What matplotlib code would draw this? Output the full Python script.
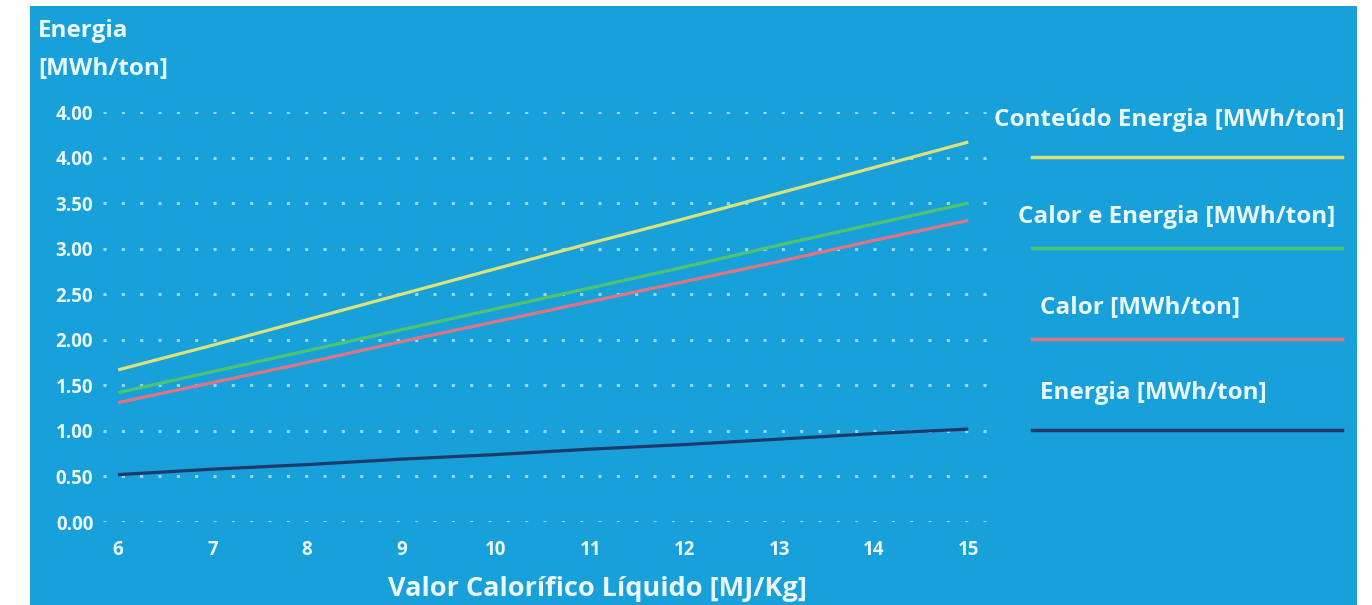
import matplotlib.pyplot as plt
from matplotlib.patches import Rectangle
from matplotlib.lines import Line2D

# valor calorífico líquido [MJ/Kg]
vcl = [6, 7, 8, 9, 10, 11, 12, 13, 14, 15]

conteudo = [1.67, 1.94, 2.22, 2.50, 2.78, 3.06, 3.33, 3.61, 3.89, 4.17]
calor_energia = [1.42, 1.65, 1.88, 2.11, 2.34, 2.57, 2.80, 3.04, 3.27, 3.50]
calor = [1.31, 1.53, 1.75, 1.98, 2.20, 2.42, 2.64, 2.86, 3.09, 3.31]
energia = [0.52, 0.58, 0.63, 0.69, 0.74, 0.80, 0.85, 0.91, 0.97, 1.02]

series_names = ["Conteúdo Energia [MWh/ton]", "Calor e Energia [MWh/ton]",
                "Calor [MWh/ton]", "Energia [MWh/ton]"]

y_ticks = [0.0, 0.5, 1.0, 1.5, 2.0, 2.5, 3.0, 3.5, 4.0, 4.5]
y_labels = ["0.00", "0.50", "1.00", "1.50", "2.00", "2.50", "3.00", "3.50", "4.00", "4.00"]

BG = "#17a0da"
TXT = "#eaf7fd"
colors = ["#dce27a", "#4fc46e", "#e27482", "#1d3a6b"]

plt.rcParams['font.family'] = ['Open Sans', 'DejaVu Sans']

fig = plt.figure(figsize=(13.72, 6.05), dpi=100)
fig.patch.set_facecolor("white")
fig.add_artist(Rectangle((30 / 1372, 0), 1327 / 1372, 599 / 605,
                         transform=fig.transFigure, facecolor=BG,
                         edgecolor="none", zorder=0))

ax = fig.add_axes([103 / 1372, 83 / 605, 887 / 1372, 410 / 605])
ax.set_facecolor("none")
for s in ax.spines.values():
    s.set_visible(False)

for vals, c in zip([conteudo, calor_energia, calor, energia], colors):
    ax.plot(vcl, vals, color=c, lw=2.3, solid_capstyle="butt", zorder=3)

ax.set_xlim(5.84, 15.23)
ax.set_ylim(0, 4.5)
ax.set_xticks(vcl)
ax.set_xticklabels([str(v) for v in vcl])
ax.set_yticks(y_ticks)
ax.set_yticklabels(y_labels)
ax.tick_params(length=0, colors=TXT, labelsize=13.5)
ax.tick_params(axis="x", pad=13)
ax.tick_params(axis="y", pad=7)
for lab in ax.get_xticklabels() + ax.get_yticklabels():
    lab.set_fontweight("bold")
ax.yaxis.grid(True, color="#9ad8f2", linestyle=(0, (1, 5)), linewidth=2.2)
ax.xaxis.grid(False)
ax.set_axisbelow(True)

fig.text(38 / 1372, 1 - 31 / 605, "Energia", color=TXT, fontsize=17.5,
         fontweight="bold", va="center", ha="left")
fig.text(38 / 1372, 1 - 69 / 605, "[MWh/ton]", color=TXT, fontsize=17.5,
         fontweight="bold", va="center", ha="left")
fig.text(597 / 1372, 1 - 589 / 605, "Valor Calorífico Líquido [MJ/Kg]",
         color=TXT, fontsize=19.5, fontweight="bold", va="center", ha="center")

# legenda manual à direita
leg_text_x = [994, 1018, 1040, 1040]
leg_text_y = [120, 217, 308, 393]
leg_line_y = [157, 248, 339, 430]
for name, c, tx, ty, ly in zip(series_names, colors, leg_text_x, leg_text_y, leg_line_y):
    fig.text(tx / 1372, 1 - ty / 605, name, color=TXT, fontsize=17.5,
             fontweight="bold", va="center", ha="left")
    fig.add_artist(Line2D([1032 / 1372, 1342 / 1372], [1 - ly / 605] * 2,
                          transform=fig.transFigure, color=c, lw=2.5))

fig.savefig("out.png", dpi=100)
